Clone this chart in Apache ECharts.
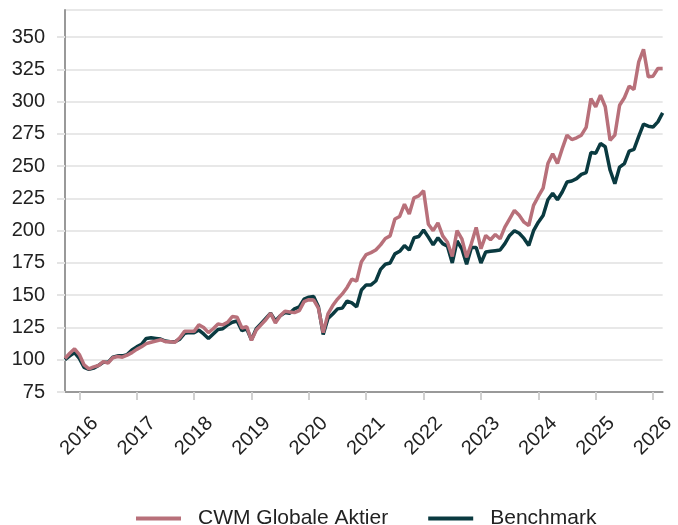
<!DOCTYPE html>
<html>
<head>
<meta charset="utf-8">
<script src="https://cdn.jsdelivr.net/npm/echarts@6/dist/echarts.min.js"></script>
<style>
  html, body { margin: 0; padding: 0; background: #fff; }
  #chart { width: 678px; height: 525px; }
</style>
</head>
<body>
<div id="chart"></div>
<script>
// months Oct 2015 .. Mar 2026
const months = []
for (let y = 2015; y <= 2026; y++) {
    for (let m = 1; m <= 12; m++) {
        if (y === 2015 && m < 10) continue
        if (y === 2026 && m > 3) continue
        months.push(y + '-' + String(m).padStart(2, '0'))
    }
}

const cwm = [
    101, 105, 108.5, 104, 96, 93, 94.5, 95.5, 98.5, 97.5,
    101.5, 102.5, 102, 103.5, 105.5, 108, 110, 112.5, 113.5, 114.5,
    115.5, 114, 114, 113.5, 117, 122, 122, 122, 127, 125,
    121, 124, 127.7, 127, 129, 133.5, 133, 124.6, 125.6, 115,
    123, 127, 131, 136, 128.5, 134, 137.5, 137, 136.5, 138,
    145, 146.5, 146.3, 140, 121, 135.5, 142, 147, 151, 156,
    162.5, 161, 176, 181.5, 183, 185, 189, 194, 196, 209,
    211, 220.5, 213, 225.5, 227, 231, 205, 200, 206, 196,
    191, 180, 200, 193.7, 179.4, 190, 202.5, 186, 196.3, 193,
    197, 193.7, 202.7, 209.2, 215.7, 212, 206.6, 204, 219.6, 226.5,
    233, 252, 259.7, 252, 263.6, 274, 270.6, 272, 274, 280,
    302.4, 296, 305, 296, 270, 274, 297.2, 303, 312, 309.4,
    330.8, 340.5, 319.2, 319.7, 325.7, 325.7
]

const benchmark = [
    100, 103, 105.5, 101, 94, 92.5, 93.5, 95.5, 98, 98,
    102, 103, 103, 104, 107.5, 110, 112, 116.5, 117, 116.5,
    116, 114.5, 114, 114, 116, 120.5, 121, 121, 123, 120,
    116.5, 120, 123.5, 124, 127, 129, 130, 122.5, 124, 115.5,
    124, 128, 132, 136, 130, 134, 136.5, 136, 139.5, 141,
    147, 148.5, 149, 141, 119.5, 132, 135.5, 139.4, 140, 145.5,
    144, 141, 154, 158, 158, 161, 170, 174, 175, 182,
    184, 188.5, 185, 194.5, 195.5, 200.5, 195, 189, 194.5, 190,
    188, 175, 192, 186, 174, 187, 187, 175, 183.5, 184,
    184.5, 185, 190, 196.3, 200, 198, 194, 188.5, 200, 206.6,
    211.8, 224, 229, 224, 230, 237.7, 238.5, 240.3, 243.6, 245,
    260.5, 260, 267.5, 265, 247, 236.4, 249.3, 252, 261.7, 263,
    273, 282.5, 281, 280.4, 284.3, 291.3
]

const isJan = (idx, val) => val.slice(5) === '01'
const font = 'Liberation Sans'

const chart = echarts.init(document.getElementById('chart'))
chart.setOption({
    animation: false,
    textStyle: { fontFamily: font },
    grid: { left: 65, right: 10, top: 10, bottom: 133 },
    legend: {
        data: ['CWM Globale Aktier', 'Benchmark'],
        left: 136,
        top: 508,
        padding: 0,
        icon: 'rect',
        itemWidth: 45,
        itemHeight: 4,
        itemGap: 40,
        textStyle: { fontSize: 21, color: '#222', fontFamily: font, padding: [0, 0, 0, 12] }
    },
    xAxis: {
        type: 'category',
        data: months,
        boundaryGap: false,
        axisLine: { lineStyle: { color: '#999', width: 2 } },
        axisTick: { interval: isJan, length: 8, lineStyle: { color: '#d0d0d0', width: 2 } },
        axisLabel: {
            interval: isJan,
            formatter: v => v.slice(0, 4),
            rotate: 45,
            align: 'center',
            verticalAlign: 'middle',
            margin: 44,
            fontSize: 20,
            color: '#222'
        },
        splitLine: { show: false }
    },
    yAxis: {
        type: 'value',
        min: 75,
        max: 371,
        interval: 25,
        axisLine: { show: true, lineStyle: { color: '#999', width: 2 } },
        axisTick: { show: true, length: 8, lineStyle: { color: '#e4e4e4', width: 2 } },
        axisLabel: { fontSize: 20, color: '#222', margin: 20, showMaxLabel: false },
        splitLine: { lineStyle: { color: '#e8e8e8', width: 2 } }
    },
    series: [
        {
            name: 'Benchmark',
            type: 'line',
            data: benchmark,
            symbol: 'none',
            color: '#0a3a40',
            lineStyle: { width: 3.5, color: '#0a3a40' }
        },
        {
            name: 'CWM Globale Aktier',
            type: 'line',
            data: cwm,
            symbol: 'none',
            color: '#b8707a',
            lineStyle: { width: 3.5, color: '#b8707a' }
        }
    ]
})
</script>
</body>
</html>
